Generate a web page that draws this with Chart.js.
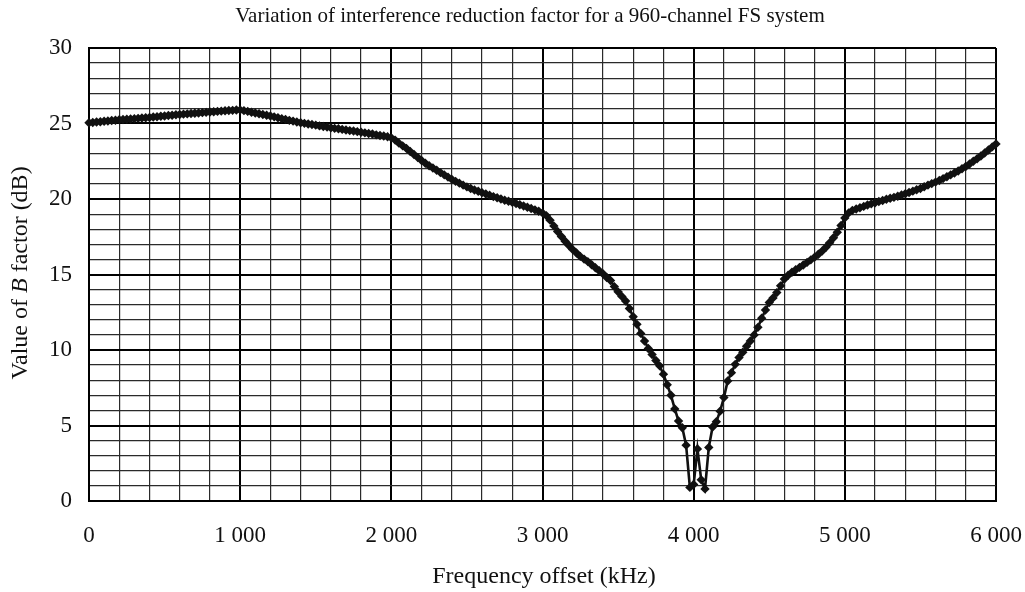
<!DOCTYPE html>
<html><head><meta charset="utf-8">
<script src="https://cdn.jsdelivr.net/npm/chart.js@4/dist/chart.umd.min.js"></script>
<style>html,body{margin:0;padding:0;background:#fff}#wrap{position:relative;width:1025px;height:592px}canvas{display:block}</style>
</head><body><div id="wrap"><canvas id="c" width="1025" height="592" style="width:1025px;height:592px"></canvas></div>
<script>
const chartTitle = "Variation of interference reduction factor for a 960-channel FS system";
const xAxisTitle = "Frequency offset (kHz)";
const yAxisTitleParts = ["Value of ", "B", " factor (dB)"];
const xTickLabels = ["0", "1 000", "2 000", "3 000", "4 000", "5 000", "6 000"];
const yTickLabels = ["0", "5", "10", "15", "20", "25", "30"];

const freqKHz = [
  0, 25, 50, 75, 100, 125, 150, 175, 200, 225, 250, 275, 300, 325, 350, 375, 400, 425, 450, 475,
  500, 525, 550, 575, 600, 625, 650, 675, 700, 725, 750, 775, 800, 825, 850, 875, 900, 925, 950, 975,
  1000, 1025, 1050, 1075, 1100, 1125, 1150, 1175, 1200, 1225, 1250, 1275, 1300, 1325, 1350, 1375, 1400, 1425, 1450, 1475,
  1500, 1525, 1550, 1575, 1600, 1625, 1650, 1675, 1700, 1725, 1750, 1775, 1800, 1825, 1850, 1875, 1900, 1925, 1950, 1975,
  2000, 2025, 2050, 2075, 2100, 2125, 2150, 2175, 2200, 2225, 2250, 2275, 2300, 2325, 2350, 2375, 2400, 2425, 2450, 2475,
  2500, 2525, 2550, 2575, 2600, 2625, 2650, 2675, 2700, 2725, 2750, 2775, 2800, 2825, 2850, 2875, 2900, 2925, 2950, 2975,
  3000, 3025, 3050, 3075, 3100, 3125, 3150, 3175, 3200, 3225, 3250, 3275, 3300, 3325, 3350, 3375, 3400, 3425, 3450, 3475,
  3500, 3525, 3550, 3575, 3600, 3625, 3650, 3675, 3700, 3725, 3750, 3775, 3800, 3825, 3850, 3875, 3900, 3925, 3950, 3975,
  4000, 4025, 4050, 4075, 4100, 4125, 4150, 4175, 4200, 4225, 4250, 4275, 4300, 4325, 4350, 4375, 4400, 4425, 4450, 4475,
  4500, 4525, 4550, 4575, 4600, 4625, 4650, 4675, 4700, 4725, 4750, 4775, 4800, 4825, 4850, 4875, 4900, 4925, 4950, 4975,
  5000, 5025, 5050, 5075, 5100, 5125, 5150, 5175, 5200, 5225, 5250, 5275, 5300, 5325, 5350, 5375, 5400, 5425, 5450, 5475,
  5500, 5525, 5550, 5575, 5600, 5625, 5650, 5675, 5700, 5725, 5750, 5775, 5800, 5825, 5850, 5875, 5900, 5925, 5950, 5975,
  6000
];
const bFactorDB = [
  25.05, 25.07, 25.10, 25.12, 25.15, 25.17, 25.20, 25.22, 25.25, 25.26, 25.28, 25.30, 25.32, 25.34, 25.36, 25.38, 25.40, 25.43, 25.45, 25.48,
  25.50, 25.53, 25.55, 25.58, 25.60, 25.62, 25.64, 25.66, 25.68, 25.70, 25.72, 25.74, 25.76, 25.78, 25.80, 25.82, 25.84, 25.86, 25.87, 25.89,
  25.90, 25.85, 25.80, 25.75, 25.70, 25.65, 25.60, 25.55, 25.50, 25.44, 25.38, 25.32, 25.27, 25.21, 25.16, 25.10, 25.05, 25.01, 24.97, 24.93,
  24.89, 24.84, 24.80, 24.76, 24.72, 24.68, 24.65, 24.61, 24.57, 24.53, 24.50, 24.46, 24.42, 24.38, 24.34, 24.30, 24.25, 24.21, 24.17, 24.12,
  24.05, 23.90, 23.70, 23.52, 23.35, 23.15, 22.95, 22.75, 22.55, 22.37, 22.20, 22.05, 21.90, 21.75, 21.60, 21.45, 21.30, 21.17, 21.05, 20.92,
  20.80, 20.70, 20.60, 20.51, 20.42, 20.33, 20.25, 20.16, 20.08, 20.00, 19.92, 19.85, 19.78, 19.70, 19.62, 19.54, 19.45, 19.37, 19.28, 19.19,
  19.08, 18.90, 18.60, 18.22, 17.85, 17.52, 17.20, 16.92, 16.65, 16.42, 16.20, 16.02, 15.85, 15.65, 15.45, 15.25, 15.05, 14.80, 14.60, 14.20,
  13.85, 13.55, 13.25, 12.75, 12.20, 11.70, 11.10, 10.60, 10.10, 9.70, 9.30, 8.95, 8.40, 7.70, 7.00, 6.10, 5.30, 4.85, 3.70, 0.90,
  1.10, 3.45, 1.40, 0.80, 3.55, 4.90, 5.25, 5.95, 6.85, 7.95, 8.50, 9.05, 9.50, 9.85, 10.25, 10.60, 11.00, 11.50, 12.10, 12.65,
  13.15, 13.45, 13.80, 14.25, 14.70, 14.95, 15.15, 15.31, 15.47, 15.63, 15.80, 15.97, 16.15, 16.34, 16.55, 16.80, 17.10, 17.43, 17.80, 18.25,
  18.75, 19.08, 19.25, 19.34, 19.42, 19.51, 19.60, 19.68, 19.75, 19.83, 19.90, 19.98, 20.05, 20.11, 20.18, 20.26, 20.35, 20.43, 20.52, 20.61,
  20.70, 20.81, 20.92, 21.02, 21.12, 21.23, 21.35, 21.47, 21.60, 21.72, 21.85, 22.00, 22.15, 22.32, 22.50, 22.67, 22.85, 23.05, 23.25, 23.45,
  23.65
];

const SERIF = "'Liberation Serif', 'Times New Roman', serif";
Chart.defaults.font.family = SERIF;
Chart.defaults.color = '#111';

const textPlugin = {
  id: 'texts',
  afterDraw(chart) {
    const ctx = chart.ctx;
    ctx.save();
    ctx.fillStyle = '#111';
    ctx.textBaseline = 'middle';
    ctx.textAlign = 'center';
    ctx.font = '21px ' + SERIF;
    ctx.fillText(chartTitle, 530, 16);
    ctx.font = '24px ' + SERIF;
    ctx.fillText(xAxisTitle, 544, 577);
    const fonts = ['24px ' + SERIF, 'italic 24px ' + SERIF, '24px ' + SERIF];
    const widths = yAxisTitleParts.map((t, i) => { ctx.font = fonts[i]; return ctx.measureText(t).width; });
    const total = widths.reduce((a, b) => a + b, 0);
    ctx.translate(21, 273);
    ctx.rotate(-Math.PI / 2);
    ctx.textAlign = 'left';
    let x = -total / 2;
    yAxisTitleParts.forEach((t, i) => { ctx.font = fonts[i]; ctx.fillText(t, x, 0); x += widths[i]; });
    ctx.restore();
  }
};

const points = freqKHz.map((f, i) => ({ x: f, y: bFactorDB[i] }));

new Chart(document.getElementById('c'), {
  type: 'line',
  data: {
    datasets: [{
      data: points,
      borderColor: '#111',
      borderWidth: 2.6,
      backgroundColor: '#111',
      pointStyle: 'rectRot',
      pointRadius: 4.7,
      pointBorderWidth: 0,
      pointBackgroundColor: '#111',
      tension: 0,
      clip: false
    }]
  },
  options: {
    responsive: false,
    animation: false,
    devicePixelRatio: 1,
    layout: { padding: { left: 0, right: 29, top: 48, bottom: 0 } },
    plugins: { legend: { display: false }, tooltip: { enabled: false } },
    scales: {
      x: {
        type: 'linear', min: 0, max: 6000,
        afterFit(s) { s.height = 91; s.paddingLeft = 0; s.paddingRight = 0; },
        ticks: {
          stepSize: 200, autoSkip: false, maxRotation: 0, padding: 21,
          font: { size: 23, family: SERIF }, color: '#111',
          callback: v => (v % 1000 === 0 ? xTickLabels[v / 1000] : '')
        },
        grid: {
          drawTicks: false,
          color: c => (c.tick && c.tick.value % 1000 === 0 ? '#000' : '#2a2a2a'),
          lineWidth: c => (c.tick && c.tick.value % 1000 === 0 ? 2 : 1.2)
        },
        border: { display: true, color: '#000', width: 2 }
      },
      y: {
        min: 0, max: 30,
        afterFit(s) { s.width = 89; s.paddingTop = 0; s.paddingBottom = 0; },
        ticks: {
          stepSize: 1, autoSkip: false, padding: 17,
          font: { size: 23, family: SERIF }, color: '#111',
          callback: v => (v % 5 === 0 ? yTickLabels[v / 5] : '')
        },
        grid: {
          drawTicks: false,
          color: c => (c.tick && c.tick.value % 5 === 0 ? '#000' : '#2a2a2a'),
          lineWidth: c => (c.tick && c.tick.value % 5 === 0 ? 2 : 1.2)
        },
        border: { display: true, color: '#000', width: 2 }
      }
    }
  },
  plugins: [textPlugin]
});
</script>
</body></html>
